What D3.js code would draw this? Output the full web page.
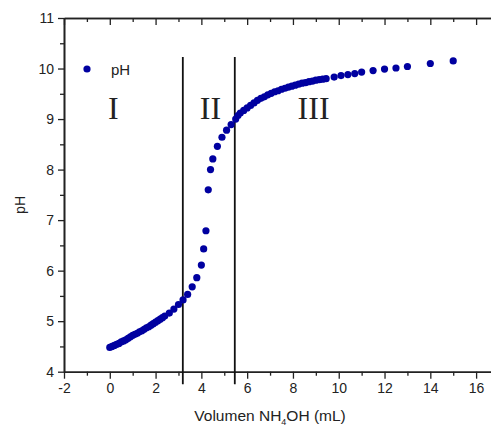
<!DOCTYPE html>
<html>
<head>
<meta charset="utf-8">
<script src="https://cdn.jsdelivr.net/npm/d3@7"></script>
<style>
  body { margin: 0; background: #fff; }
  text { font-family: "Liberation Sans", Arial, sans-serif; fill: #222; }
</style>
</head>
<body>
<div id="chart"></div>
<script>
// --------------------------------------
//  Data
// --------------------------------------

const volume = [
  0.0, 0.1, 0.2, 0.3, 0.4, 0.5, 0.6, 0.7, 0.8, 0.9,
  1.0, 1.1, 1.2, 1.3, 1.4, 1.5, 1.6, 1.7, 1.8, 1.9,
  2.0, 2.1, 2.2, 2.3, 2.4, 2.6, 2.8, 3.0, 3.2, 3.4,
  3.6, 3.8, 4.0, 4.1, 4.2, 4.3, 4.4, 4.5, 4.7, 4.9,
  5.1, 5.3, 5.5, 5.6, 5.7, 5.85, 6.0, 6.15, 6.3, 6.45,
  6.6, 6.75, 6.9, 7.05, 7.2, 7.35, 7.5, 7.65, 7.8, 7.95,
  8.1, 8.25, 8.4, 8.55, 8.7, 8.85, 9.0, 9.15, 9.3, 9.45,
  9.8, 10.1, 10.4, 10.7, 11.0, 11.5, 12.0, 12.5, 13.0, 14.0, 15.0
];

const pH = [
  4.48, 4.50, 4.52, 4.54, 4.56, 4.59, 4.61, 4.63, 4.66, 4.69,
  4.72, 4.74, 4.76, 4.79, 4.81, 4.84, 4.87, 4.89, 4.92, 4.95,
  4.98, 5.01, 5.04, 5.07, 5.10, 5.16, 5.24, 5.33, 5.42, 5.53,
  5.68, 5.86, 6.11, 6.43, 6.79, 7.60, 8.00, 8.21, 8.46, 8.64,
  8.78, 8.89, 9.00, 9.07, 9.12, 9.17, 9.22, 9.27, 9.32, 9.37,
  9.41, 9.44, 9.48, 9.51, 9.54, 9.56, 9.59, 9.61, 9.63, 9.65,
  9.67, 9.69, 9.71, 9.72, 9.74, 9.75, 9.77, 9.78, 9.79, 9.80,
  9.83, 9.86, 9.88, 9.90, 9.93, 9.96, 9.99, 10.01, 10.04, 10.10, 10.15
];

const regionBounds = [3.19, 5.46];
const regionLabels = ["I", "II", "III"];
const regionLabelX = [0.15, 4.4, 8.9];

const xTicks = [-2, 0, 2, 4, 6, 8, 10, 12, 14, 16];
const yTicks = [4, 5, 6, 7, 8, 9, 10, 11];

const data = volume.map((v, i) => ({ v: v, p: pH[i] }));

// --------------------------------------
//  Canvas
// --------------------------------------

const width = 491, height = 427;
const margin = { left: 64, top: 18 };
const innerwidth = 435;     // -2 .. 17, runs past the window edge
const innerheight = 353.7;

const svg = d3.select("#chart")
  .append("svg")
    .attr("width", width)
    .attr("height", height);

const inner = svg.append("g")
    .attr("transform", `translate(${margin.left}, ${margin.top})`);

// --------------------------------------
//  Scales
// --------------------------------------

const x = d3.scaleLinear().domain([-2, 17]).range([0, innerwidth]);
const y = d3.scaleLinear().domain([4, 11]).range([innerheight, 0]);

const xMinor = d3.range(-2, 17.5, 1).filter(d => d % 2 !== 0);
const yMinor = d3.range(4.5, 11, 1);

const plain = d => String(d);   // keeps "-2" with a hyphen like the original

// --------------------------------------
//  Axes
// --------------------------------------

function styleAxis(g) {
  g.select(".domain").attr("stroke", "#222").attr("stroke-width", 1.6);
  g.selectAll(".tick line").attr("stroke", "#222").attr("stroke-width", 1.3);
  g.selectAll(".tick text").style("font-size", "14px").attr("fill", "#222");
}

// bottom major + minor
inner.append("g")
    .attr("transform", `translate(0, ${innerheight})`)
    .call(d3.axisBottom(x).tickValues(xTicks).tickFormat(plain).tickSize(7).tickPadding(4).tickSizeOuter(0))
    .call(styleAxis);
inner.append("g")
    .attr("transform", `translate(0, ${innerheight})`)
    .call(d3.axisBottom(x).tickValues(xMinor).tickSize(4).tickFormat("").tickSizeOuter(0))
    .call(styleAxis);

// top (mirrored, ticks inward)
inner.append("g")
    .call(d3.axisBottom(x).tickValues(xTicks).tickSize(7).tickFormat("").tickSizeOuter(0))
    .call(styleAxis);
inner.append("g")
    .call(d3.axisBottom(x).tickValues(xMinor).tickSize(4).tickFormat("").tickSizeOuter(0))
    .call(styleAxis);

// left major + minor
inner.append("g")
    .call(d3.axisLeft(y).tickValues(yTicks).tickFormat(plain).tickSize(6).tickPadding(4).tickSizeOuter(0))
    .call(styleAxis);
inner.append("g")
    .call(d3.axisLeft(y).tickValues(yMinor).tickSize(4).tickFormat("").tickSizeOuter(0))
    .call(styleAxis);

// axis titles
const xTitle = svg.append("text")
    .attr("x", margin.left + x(7))
    .attr("y", 421)
    .attr("text-anchor", "middle")
    .style("font-size", "15.5px");
xTitle.append("tspan").text("Volumen NH");
xTitle.append("tspan").text("4").style("font-size", "9px").attr("dy", 4);
xTitle.append("tspan").text("OH (mL)").attr("dy", -4);

svg.append("text")
    .attr("transform", `translate(25, ${margin.top + y(7.3)}) rotate(-90)`)
    .attr("text-anchor", "middle")
    .style("font-size", "14px")
    .text("pH");

// --------------------------------------
//  Region dividers and labels
// --------------------------------------

inner.selectAll(".divider")
  .data(regionBounds)
  .join("line")
    .attr("class", "divider")
    .attr("x1", d => x(d))
    .attr("x2", d => x(d))
    .attr("y1", y(10.23))
    .attr("y2", y(3.75))
    .attr("stroke", "#111")
    .attr("stroke-width", 1.8);

inner.selectAll(".region")
  .data(regionLabels)
  .join("text")
    .attr("class", "region")
    .attr("x", (d, i) => x(regionLabelX[i]))
    .attr("y", y(9.0))
    .attr("text-anchor", "middle")
    .style("font-family", "'Liberation Serif', 'Times New Roman', serif")
    .style("font-size", "32px")
    .attr("fill", "#111")
    .text(d => d);

// --------------------------------------
//  Data drawing
// --------------------------------------

inner.selectAll(".dot")
  .data(data)
  .join("circle")
    .attr("class", "dot")
    .attr("cx", d => x(d.v))
    .attr("cy", d => y(d.p))
    .attr("r", 3.6)
    .attr("fill", "#0000a0");

// --------------------------------------
//  Legend
// --------------------------------------

svg.append("circle")
    .attr("cx", 87)
    .attr("cy", 69)
    .attr("r", 3.6)
    .attr("fill", "#0000a0");

svg.append("text")
    .attr("x", 111)
    .attr("y", 75)
    .style("font-size", "15px")
    .text("pH");
</script>
</body>
</html>
